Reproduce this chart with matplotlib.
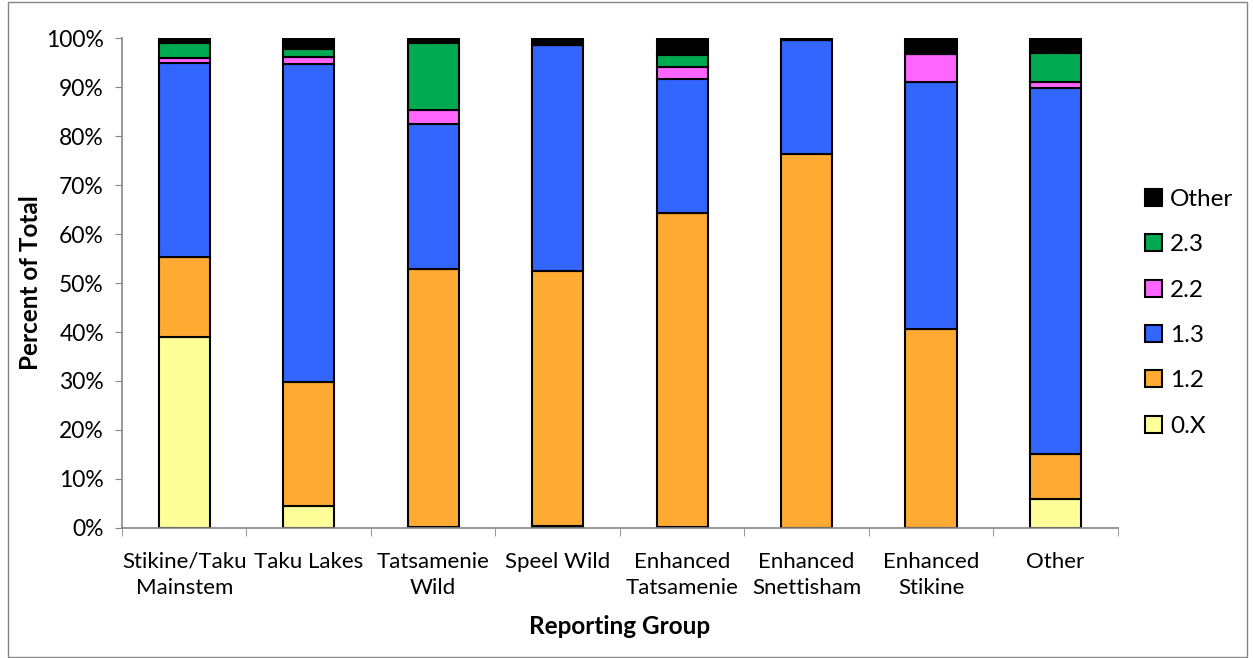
import matplotlib.pyplot as plt
from matplotlib.patches import Rectangle
from matplotlib.ticker import PercentFormatter

plt.rcParams['font.family'] = ['Lato', 'DejaVu Sans']

groups = ["Stikine/Taku\nMainstem", "Taku Lakes", "Tatsamenie\nWild", "Speel Wild",
          "Enhanced\nTatsamenie", "Enhanced\nSnettisham", "Enhanced\nStikine", "Other"]

# percent of total by age class
age_0x = [39.0, 4.4, 0.3, 0.5, 0.3, 0.0, 0.0, 6.0]
age_12 = [16.3, 25.4, 52.6, 51.9, 64.0, 76.3, 40.6, 9.0]
age_13 = [39.7, 64.9, 29.5, 46.2, 27.3, 23.4, 50.5, 74.9]
age_22 = [0.9, 1.4, 3.0, 0.0, 2.4, 0.0, 5.6, 1.1]
age_23 = [3.0, 1.6, 13.5, 0.0, 2.5, 0.0, 0.0, 5.9]
age_other = [1.1, 2.3, 1.0, 1.4, 3.5, 0.3, 3.3, 3.1]

series = [("0.X", age_0x, "#FFFF99"),
          ("1.2", age_12, "#FFAA33"),
          ("1.3", age_13, "#3366FF"),
          ("2.2", age_22, "#FF66FF"),
          ("2.3", age_23, "#00AA50"),
          ("Other", age_other, "#000000")]

fig = plt.figure(figsize=(12.53, 6.58), dpi=100)
ax = fig.add_axes([0.0974, 0.1976, 0.7946, 0.7446])

x = range(len(groups))
bottom = [0.0] * len(groups)
handles = []
for label, vals, color in series:
    h = ax.bar(x, vals, width=0.41, bottom=bottom, color=color,
               edgecolor="black", linewidth=1.5, label=label)
    handles.append(h)
    bottom = [b + v for b, v in zip(bottom, vals)]

ax.set_xlim(-0.5, len(groups) - 0.5)
ax.set_ylim(0, 100)
ax.set_yticks(range(0, 101, 10))
ax.yaxis.set_major_formatter(PercentFormatter(decimals=0))
ax.set_xticks(list(x))
ax.set_xticklabels(groups, fontsize=16, linespacing=1.4)
ax.set_xticks([i - 0.5 for i in range(len(groups) + 1)], minor=True)
ax.tick_params(axis="x", which="major", length=0, pad=17)
ax.tick_params(axis="x", which="minor", length=6, color="#868686")
ax.tick_params(axis="y", labelsize=16.5, length=5, pad=8, color="#868686")

for side in ("top", "right"):
    ax.spines[side].set_visible(False)
for side in ("left", "bottom"):
    ax.spines[side].set_color("#868686")
    ax.spines[side].set_linewidth(1.2)

ax.set_xlabel("Reporting Group", fontsize=17.5, fontweight="bold", labelpad=12)
ax.set_ylabel("Percent of Total", fontsize=17.5, fontweight="bold", labelpad=3)

ax.legend(handles[::-1], [s[0] for s in series][::-1], loc="center left",
          bbox_to_anchor=(1.005, 0.439), frameon=False, fontsize=17.5,
          handlelength=0.7, handleheight=0.7, handletextpad=0.35,
          labelspacing=1.0)

# thin frame around the whole chart
fig.patches.append(Rectangle((0.006, 0.002), 0.989, 0.995, transform=fig.transFigure,
                             fill=False, edgecolor="#868686", linewidth=1))

fig.savefig("out.png", dpi=100)
